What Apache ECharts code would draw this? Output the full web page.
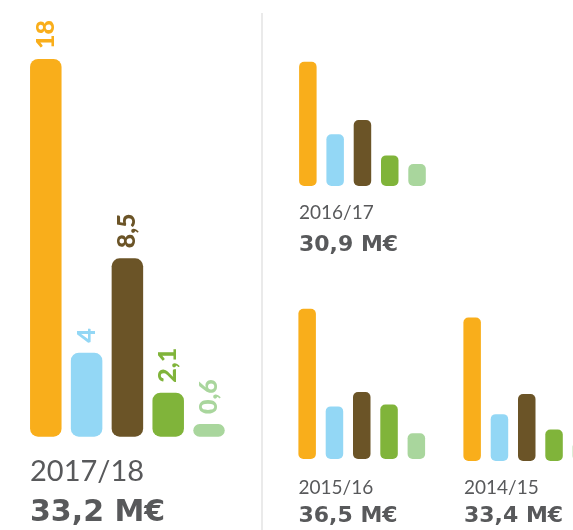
<!DOCTYPE html>
<html>
<head>
<meta charset="utf-8">
<script src="https://cdn.jsdelivr.net/npm/echarts@6/dist/echarts.min.js"></script>
<style>
html,body{margin:0;padding:0;background:#fff;}
#chart{width:573px;height:530px;}
</style>
</head>
<body>
<div id="chart"></div>
<script>
const categories = ['A', 'B', 'C', 'D', 'E'];
const colors = ['#F9AE1B', '#93D7F5', '#6B5427', '#80B43A', '#A9D69D'];
const seasons = ['2017/18', '2016/17', '2015/16', '2014/15'];
const totals = ['33,2 M€', '30,9 M€', '36,5 M€', '33,4 M€'];
const values1718 = [18, 4, 8.5, 2.1, 0.6];
const values1617 = [13, 5.4, 6.9, 3.2, 2.3];
const values1516 = [15.7, 5.5, 7.0, 5.7, 2.7];
const values1415 = [15.0, 4.9, 7.0, 3.3, 2.0];

const FONT = 'Lato';
const BOLDFONT = '"DejaVu Sans"';
const TEXT = '#58595B';

const grids = [
  {left: 25.4, top: 59, width: 204, height: 377.7},
  {left: 294.2, top: 33, width: 136.5, height: 153},
  {left: 293.5, top: 306, width: 136.5, height: 153},
  {left: 458.5, top: 308, width: 136.5, height: 153}
].map(g => Object.assign(g, {outerBoundsMode: 'none', containLabel: false}));
const maxes = [18, 16, 16, 16];
const allValues = [values1718, values1617, values1516, values1415];

function makeSeries(vals, idx, main) {
  return {
    type: 'bar',
    xAxisIndex: idx,
    yAxisIndex: idx,
    barWidth: main ? 31.5 : 17.5,
    silent: true,
    data: vals.map((v, i) => ({
      value: v,
      itemStyle: {color: colors[i], borderRadius: main ? 8 : 5},
      label: {color: colors[i]}
    })),
    label: main ? {
      show: true,
      position: 'top',
      rotate: 90,
      align: 'left',
      verticalAlign: 'middle',
      distance: 10,
      fontFamily: FONT,
      fontWeight: 900,
      fontSize: 25,
      formatter: p => String(p.value).replace('.', ',')
    } : {show: false}
  };
}

const graphics = [
  {type: 'line', shape: {x1: 262, y1: 13, x2: 262, y2: 530}, style: {stroke: '#e3e3e3', lineWidth: 1.5}}
];
const textPos = [
  {x: 30, y1: 463, y2: 504, s1: 29, s2: 30},
  {x: 299, y1: 207, y2: 239, s1: 19, s2: 22},
  {x: 298.5, y1: 482, y2: 510, s1: 19, s2: 22},
  {x: 464, y1: 482, y2: 510, s1: 19, s2: 22}
];
seasons.forEach((s, i) => {
  const t = textPos[i];
  graphics.push({type: 'text', x: t.x, y: t.y1 - t.s1 * 0.2, style: {text: s, fill: TEXT, font: '400 ' + t.s1 + 'px ' + FONT, verticalAlign: 'top'}});
  graphics.push({type: 'text', x: t.x, y: t.y2 - t.s2 * 0.2, style: {text: totals[i], fill: TEXT, font: 'bold ' + t.s2 + 'px ' + BOLDFONT, verticalAlign: 'top'}});
});

const chart = echarts.init(document.getElementById('chart'));
chart.setOption({
  animation: false,
  grid: grids,
  xAxis: grids.map((g, i) => ({type: 'category', gridIndex: i, data: categories, show: false})),
  yAxis: grids.map((g, i) => ({type: 'value', gridIndex: i, min: 0, max: maxes[i], show: false})),
  series: allValues.map((v, i) => makeSeries(v, i, i === 0)),
  graphic: graphics
});
</script>
</body>
</html>
